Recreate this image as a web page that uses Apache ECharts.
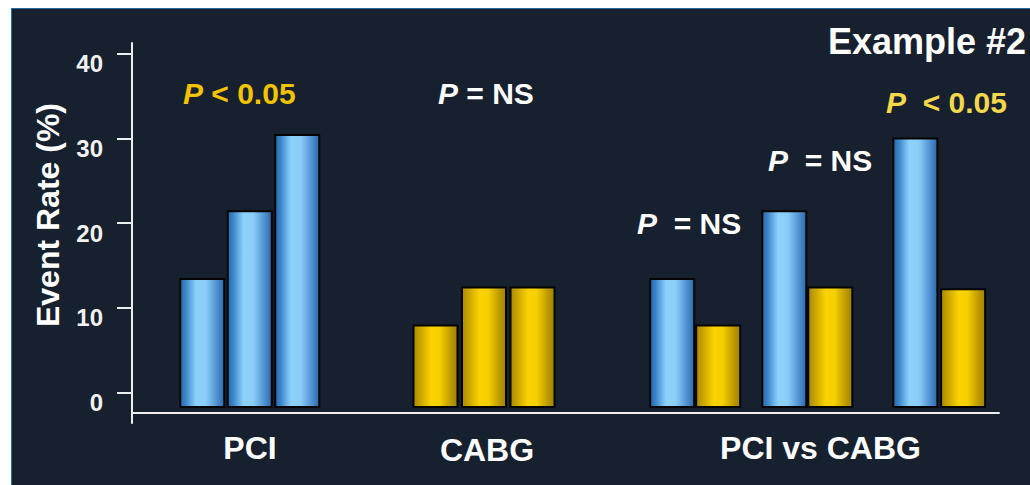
<!DOCTYPE html>
<html>
<head>
<meta charset="utf-8">
<title>Event Rate – Example #2</title>
<script src="https://cdn.jsdelivr.net/npm/echarts@6/dist/echarts.min.js"></script>
<style>
  html, body { margin: 0; padding: 0; background: #ffffff; }
  #slide {
    position: absolute; left: 11px; top: 8px; right: 0; bottom: 0;
    background: #17202e;
    border-left: 1px solid #2a6aa3;
    border-top: 1px solid #2a6aa3;
  }
  #chart { position: absolute; left: 0; top: 0; width: 1030px; height: 485px; }
</style>
</head>
<body>
<div id="slide"></div>
<div id="chart"></div>
<script>
// ---- data ------------------------------------------------------------
const groupLabels = ['PCI', 'CABG', 'PCI vs CABG'];
const subgroups   = ['A', 'B', 'C'];
const arms        = ['PCI', 'CABG'];

const pciRates    = [13.4, 21.4, 30.4];   // event rate (%) by subgroup, PCI
const cabgRates   = [7.9, 12.4, 12.4];    // event rate (%) by subgroup, CABG
const vsPciRates  = [13.4, 21.4, 30.0];   // head-to-head, PCI arm
const vsCabgRates = [7.9, 12.4, 12.2];    // head-to-head, CABG arm

const yTicks      = [0, 10, 20, 30, 40];
const pciP        = '< 0.05';
const cabgP       = '= NS';
const vsP         = ['= NS', '= NS', '< 0.05'];
const titleText   = 'Example #2';
const yTitle      = 'Event Rate (%)';

// ---- styling ---------------------------------------------------------
const FONT = '"Liberation Sans", Arial, Helvetica, sans-serif';
const AXIS_COLOR = '#eeeeee';
const Y_MIN = -3.6, Y_MAX = 41.27;     // value range of the plot area
const BAR_BASE = -1.7;                 // bars are drawn up from just below zero
const BAR_W = 44;
const GRID_TOP = 43, GRID_BOTTOM = 62;

const blueFill = new echarts.graphic.LinearGradient(0, 0, 1, 0, [
  { offset: 0.00, color: '#2668ab' },
  { offset: 0.12, color: '#3a84c8' },
  { offset: 0.36, color: '#8dd2fc' },
  { offset: 0.58, color: '#8bcdf7' },
  { offset: 0.84, color: '#4f8fd0' },
  { offset: 1.00, color: '#2b69a9' }
]);
const goldFill = new echarts.graphic.LinearGradient(0, 0, 1, 0, [
  { offset: 0.00, color: '#a88900' },
  { offset: 0.14, color: '#c6a200' },
  { offset: 0.40, color: '#fcd300' },
  { offset: 0.60, color: '#f6cf00' },
  { offset: 0.86, color: '#bb9800' },
  { offset: 1.00, color: '#9f8200' }
]);

// one grid per bar cluster, all sharing the same vertical scale
const clusterGrids = [
  { left: 178.5,  width: 142.5, cats: subgroups, values: pciRates,  fills: [blueFill, blueFill, blueFill] },
  { left: 411.25, width: 145.5, cats: subgroups, values: cabgRates, fills: [goldFill, goldFill, goldFill] },
  { left: 649.2,  width: 92,    cats: arms, values: [vsPciRates[0], vsCabgRates[0]], fills: [blueFill, goldFill] },
  { left: 761.3,  width: 92,    cats: arms, values: [vsPciRates[1], vsCabgRates[1]], fills: [blueFill, goldFill] },
  { left: 891.5,  width: 95.5,  cats: arms, values: [vsPciRates[2], vsCabgRates[2]], fills: [blueFill, goldFill] }
];

function barRenderer(fills) {
  return function (params, api) {
    const cat = api.value(0);
    const top = api.coord([cat, api.value(1)]);
    const base = api.coord([cat, BAR_BASE]);
    return {
      type: 'rect',
      shape: { x: top[0] - BAR_W / 2, y: top[1], width: BAR_W, height: base[1] - top[1] },
      style: { fill: fills[cat], stroke: '#050505', lineWidth: 2 }
    };
  };
}

const grids = [{ left: 132, right: 31, top: GRID_TOP, bottom: GRID_BOTTOM }];
const xAxes = [{
  gridIndex: 0, type: 'value', min: 0, max: 1, offset: -10,
  axisLine: { show: true, onZero: false, lineStyle: { color: AXIS_COLOR, width: 2 } },
  axisTick: { show: false }, axisLabel: { show: false }, splitLine: { show: false }
}];
const yAxes = [{
  gridIndex: 0, type: 'value', min: Y_MIN, max: Y_MAX,
  axisLine: { show: true, lineStyle: { color: AXIS_COLOR, width: 2 } },
  axisTick: { show: true, customValues: yTicks, length: 15, lineStyle: { color: AXIS_COLOR, width: 2 } },
  axisLabel: {
    customValues: yTicks, color: '#f2f2f2', fontFamily: FONT, fontSize: 24, fontWeight: 'bold',
    margin: 29, verticalAlign: 'top', lineHeight: 20
  },
  splitLine: { show: false }
}];
const series = [];

clusterGrids.forEach((g, i) => {
  const gi = i + 1;
  grids.push({ left: g.left, width: g.width, top: GRID_TOP, bottom: GRID_BOTTOM });
  xAxes.push({ gridIndex: gi, type: 'category', data: g.cats, show: false });
  yAxes.push({ gridIndex: gi, type: 'value', min: Y_MIN, max: Y_MAX, show: false });
  series.push({
    type: 'custom',
    xAxisIndex: gi, yAxisIndex: gi,
    data: g.values.map((v, k) => [k, v]),
    renderItem: barRenderer(g.fills),
    silent: true
  });
});

// "P <relation>" annotation with an italic P
function pLabel(x, y, relation, color, wide) {
  const tok = { fontFamily: FONT, fontSize: 30, fontWeight: 'bold', fill: color };
  return {
    type: 'text', x: x, y: y, silent: true,
    style: {
      text: '{p|P}{r|' + (wide ? ' \u00a0' : ' ') + relation + '}',
      align: 'left', verticalAlign: 'middle',
      rich: { p: Object.assign({ fontStyle: 'italic' }, tok), r: tok }
    }
  };
}

function plainText(x, y, text, size, align, extra) {
  return Object.assign({
    type: 'text', x: x, y: y, silent: true,
    style: {
      text: text, fill: '#ffffff', fontFamily: FONT, fontSize: size, fontWeight: 'bold',
      align: align, verticalAlign: 'middle'
    }
  }, extra || {});
}

const graphics = [
  plainText(1026, 41, titleText, 36, 'right'),
  plainText(48, 215, yTitle, 32, 'center', { rotation: Math.PI / 2 }),
  plainText(250, 447.5, groupLabels[0], 32, 'center'),
  plainText(487, 450, groupLabels[1], 32, 'center'),
  plainText(820.5, 447.5, groupLabels[2], 32, 'center'),
  pLabel(183, 93, pciP, '#f3c300', false),
  pLabel(438, 93, cabgP, '#ffffff', false),
  pLabel(637, 223, vsP[0], '#ffffff', true),
  pLabel(768, 160, vsP[1], '#ffffff', true),
  pLabel(886, 102, vsP[2], '#f4d84c', true)
];

const chart = echarts.init(document.getElementById('chart'), null, { renderer: 'svg' });
chart.setOption({
  backgroundColor: 'transparent',
  animation: false,
  grid: grids,
  xAxis: xAxes,
  yAxis: yAxes,
  series: series,
  graphic: graphics
});
</script>
</body>
</html>
